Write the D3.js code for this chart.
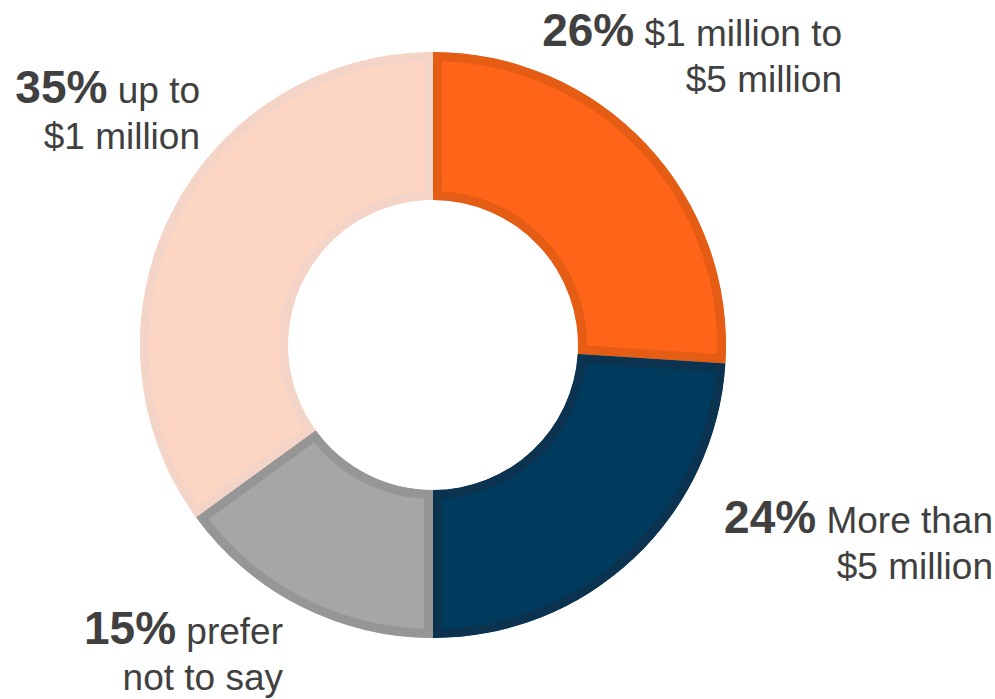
<!DOCTYPE html>
<html>
<head>
<meta charset="utf-8">
<script src="https://cdn.jsdelivr.net/npm/d3@7"></script>
<style>
  html, body { margin: 0; padding: 0; background: #ffffff; }
  svg { display: block; }
  text { font-family: "Liberation Sans", Arial, Helvetica, sans-serif; fill: #404040; }
</style>
</head>
<body>
<svg id="chart" width="995" height="699"></svg>
<script>
// Share of respondents by bracket, clockwise from 12 o'clock
const categories = ["$1 million to $5 million", "More than $5 million", "prefer not to say", "up to $1 million"];
const values = [26, 24, 15, 35];
const labelLines = [
  ["$1 million to", "$5 million"],
  ["More than", "$5 million"],
  ["prefer", "not to say"],
  ["up to", "$1 million"]
];
const fillColors = ["#FF6418", "#003A5C", "#A6A6A6", "#FDD5C3"];
const edgeColors = ["#E55D14", "#0B3350", "#969696", "#F4D4C7"];

// Where each label block sits (right edge, first baseline)
const labelAnchors = [
  { x: 842, y: 46 },
  { x: 993, y: 533 },
  { x: 283, y: 644 },
  { x: 200, y: 103 }
];

const svg = d3.select("#chart");
const cx = 433, cy = 345;
const outerR = 293, innerR = 145;
const edgeWidth = 9;

const pie = d3.pie().sort(null).value(d => d.value);
const arc = d3.arc().innerRadius(innerR).outerRadius(outerR);

const data = categories.map((c, i) => ({ name: c, value: values[i], i }));
const arcs = pie(data);

const defs = svg.append("defs");
arcs.forEach((a, i) => {
  defs.append("clipPath").attr("id", "slice-clip-" + i)
    .append("path").attr("d", arc(a));
});

const g = svg.append("g").attr("transform", `translate(${cx},${cy})`);

// Each slice gets an inner border in a darker shade of its fill
g.selectAll("path.slice")
  .data(arcs)
  .join("path")
  .attr("class", "slice")
  .attr("d", arc)
  .attr("fill", d => fillColors[d.data.i])
  .attr("stroke", d => edgeColors[d.data.i])
  .attr("stroke-width", edgeWidth * 2)
  .attr("stroke-linejoin", "miter")
  .attr("clip-path", d => `url(#slice-clip-${d.data.i})`);

// Labels: bold percentage followed by the bracket name, right-aligned
const lineGap = 46;
data.forEach((d, i) => {
  const pos = labelAnchors[i];
  const t = svg.append("text")
    .attr("x", pos.x)
    .attr("y", pos.y)
    .attr("text-anchor", "end");
  t.append("tspan")
    .attr("font-weight", "bold")
    .attr("font-size", 46)
    .text(d.value + "%");
  t.append("tspan")
    .attr("font-size", 37)
    .text(" " + labelLines[i][0]);
  svg.append("text")
    .attr("x", pos.x)
    .attr("y", pos.y + lineGap)
    .attr("text-anchor", "end")
    .attr("font-size", 37)
    .text(labelLines[i][1]);
});
</script>
</body>
</html>
